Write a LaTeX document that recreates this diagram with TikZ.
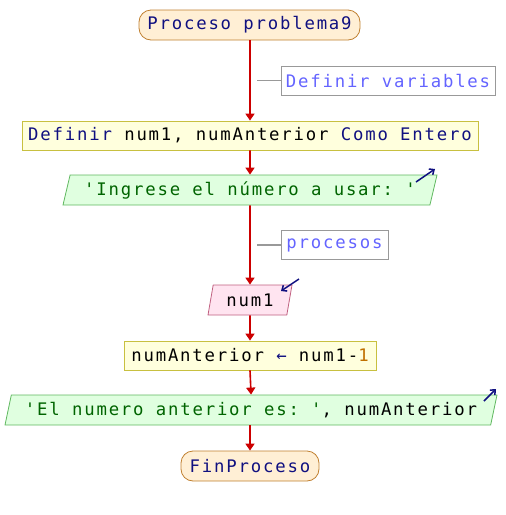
\documentclass[tikz,border=0pt]{standalone}
\usepackage{fontspec}
\setmonofont{DejaVu Sans Mono}[LetterSpace=10.5]
\usetikzlibrary{shapes.geometric,arrows.meta}
\definecolor{kw}{HTML}{101080}
\definecolor{strc}{HTML}{006400}
\definecolor{numc}{HTML}{C07000}
\definecolor{comc}{HTML}{6464FF}
\definecolor{flow}{HTML}{CC0000}
\definecolor{termfill}{HTML}{FFEFD5}
\definecolor{termdraw}{HTML}{C08030}
\definecolor{procfill}{HTML}{FFFFDD}
\definecolor{procdraw}{HTML}{C8C040}
\definecolor{outfill}{HTML}{E0FFE0}
\definecolor{outdraw}{HTML}{60B860}
\definecolor{infill}{HTML}{FFE4F0}
\definecolor{indraw}{HTML}{C06080}
\tikzset{
  base/.style={font=\ttfamily\fontsize{17.3}{20}\selectfont, inner sep=0pt, text=black},
  term/.style={base, draw=termdraw, fill=termfill, rounded corners=12pt, minimum height=30pt, text=kw, line width=0.8pt},
  procbox/.style={base, draw=procdraw, fill=procfill, minimum height=29pt, line width=0.8pt},
  para/.style={base, shape=trapezium, trapezium left angle=68, trapezium right angle=112, trapezium stretches body=true, minimum height=30pt, line width=0.8pt},
  outbox/.style={para, draw=outdraw, fill=outfill},
  inbox/.style={para, draw=indraw, fill=infill},
  combox/.style={base, draw=gray!80, minimum height=29pt, text=comc, line width=0.8pt},
  comline/.style={draw=gray!80, line width=1.8pt},
  flowline/.style={draw=flow, line width=1.6pt},
  flowarrow/.style={flowline, -{Triangle[width=9pt,length=7pt]}},
  io/.style={draw=kw, line width=1.5pt, -{Straight Barb[length=4pt,width=7pt]}},
}
\begin{document}
\begin{tikzpicture}[x=1pt,y=-1pt]
\useasboundingbox (0,0) rectangle (506,515);
\node[term, minimum width=221pt] (start) at (249.5,25) {Proceso problema9};
\node[combox, minimum width=214pt] (com1) at (388,80.5) {Definir variables};
\node[procbox, minimum width=456pt] (def) at (250,135.5) {\textcolor{kw}{Definir} num1, numAnterior \textcolor{kw}{Como Entero}};
\node[outbox, minimum width=374pt] (out1) at (250,190) {\textcolor{strc}{'Ingrese el número a usar: '}};
\node[combox, minimum width=107pt] (com2) at (334.5,245) {procesos};
\node[inbox, minimum width=84pt] (in1) at (250,300) {num1};
\node[procbox, minimum width=252pt] (asg) at (250,355.5) {numAnterior \textcolor{kw}{←} num1-\textcolor{numc}{1}};
\node[outbox, minimum width=492pt] (out2) at (251,410) {\textcolor{strc}{'El numero anterior es: '}, numAnterior};
\node[term, minimum width=138pt] (fin) at (250,466) {FinProceso};

\coordinate (c1) at (257,80.5);
\coordinate (c2) at (257,245);
\draw[flowarrow] (start.south -| def.north) -- (def.north);
\draw[comline] (c1) -- (com1.west);
\draw[flowarrow] (def.south) -- (out1.north);
\draw[flowarrow] (out1.south) -- (in1.north);
\draw[comline] (c2) -- (com2.west);
\draw[flowarrow] (in1.south) -- (asg.north);
\draw[flowarrow] (asg.south) -- (out2.north);
\draw[flowarrow] (out2.south -| fin.north) -- (fin.north);

\coordinate (a1s) at (416,182);
\coordinate (a1e) at (435,169);
\draw[io] (a1s) -- (a1e);
\coordinate (a2s) at (299,279);
\coordinate (a2e) at (281,291);
\draw[io] (a2s) -- (a2e);
\coordinate (a3s) at (484,401);
\coordinate (a3e) at (496,389);
\draw[io] (a3s) -- (a3e);
\end{tikzpicture}
\end{document}
